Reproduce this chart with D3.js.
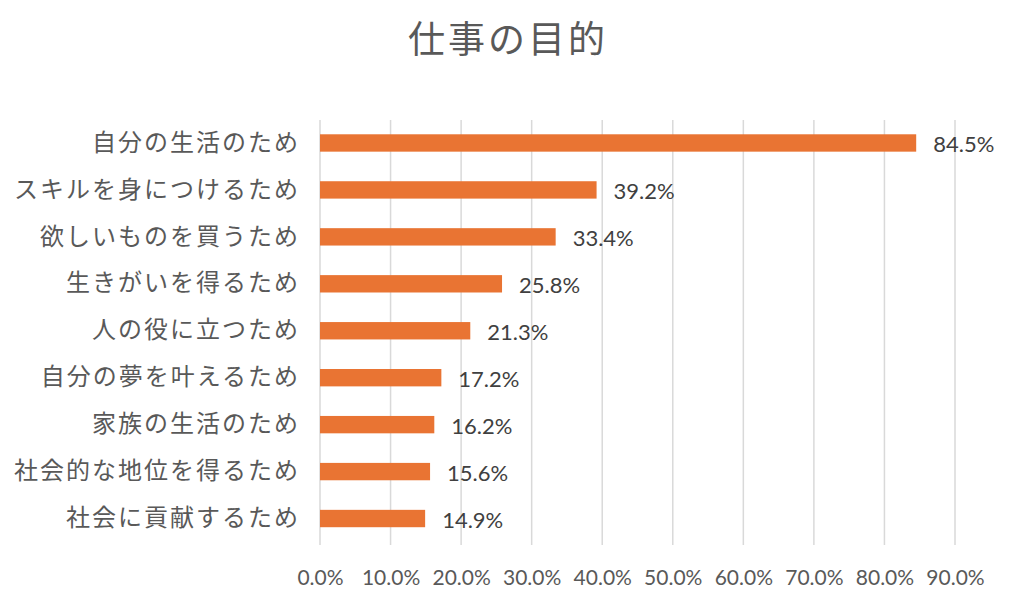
<!DOCTYPE html>
<html><head><meta charset="utf-8">
<script src="https://cdn.jsdelivr.net/npm/d3@7"></script>
<style>body{margin:0;background:#fff}</style>
</head><body>
<svg id="c" width="1024" height="600"></svg>
<script>
const title = "仕事の目的";
const categories = ["自分の生活のため","スキルを身につけるため","欲しいものを買うため","生きがいを得るため","人の役に立つため","自分の夢を叶えるため","家族の生活のため","社会的な地位を得るため","社会に貢献するため"];
const values = [84.5,39.2,33.4,25.8,21.3,17.2,16.2,15.6,14.9];
const xTicks = [0,10,20,30,40,50,60,70,80,90];

const svg = d3.select("#c");
const x = d3.scaleLinear().domain([0,90]).range([320,955]);
const y = d3.scaleBand().domain(categories).range([119.5,542]).paddingInner(0.63).paddingOuter(0.315);

svg.append("text").attr("x",508).attr("y",53).attr("text-anchor","middle")
  .attr("font-family","Noto Sans CJK JP").attr("font-size",37).attr("letter-spacing",3).attr("fill","#595959").text(title);

const grid = svg.append("g");
grid.selectAll("line").data(xTicks).join("line")
  .attr("x1",d=>x(d)).attr("x2",d=>x(d)).attr("y1",120).attr("y2",545)
  .attr("stroke","#d9d9d9").attr("stroke-width",1.5);

const xa = svg.append("g").attr("transform","translate(0,545)")
  .call(d3.axisBottom(x).tickValues(xTicks).tickFormat(d=>d.toFixed(1)+"%").tickSize(0).tickPadding(25));
xa.select(".domain").remove();
xa.selectAll("text").attr("font-family","Lato, 'Noto Sans'").attr("font-size",21).attr("fill","#595959");

const ya = svg.append("g").attr("transform","translate(298,0)")
  .call(d3.axisLeft(y).tickSize(0).tickPadding(0));
ya.select(".domain").remove();
ya.selectAll("text").attr("font-family","Noto Sans CJK JP").attr("font-size",24).attr("letter-spacing",2).attr("dx",2).attr("fill","#595959");

svg.append("g").selectAll("rect").data(values).join("rect")
  .attr("x",x(0)).attr("y",(d,i)=>y(categories[i]))
  .attr("width",d=>x(d)-x(0)).attr("height",y.bandwidth())
  .attr("fill","#E97433");

svg.append("g").selectAll("text").data(values).join("text")
  .attr("x",d=>x(d)+17).attr("y",(d,i)=>y(categories[i])+y.bandwidth()/2+9)
  .attr("font-family","Lato, 'Noto Sans'").attr("font-size",22).attr("fill","#404040")
  .text(d=>d.toFixed(1)+"%");
</script>
</body></html>
